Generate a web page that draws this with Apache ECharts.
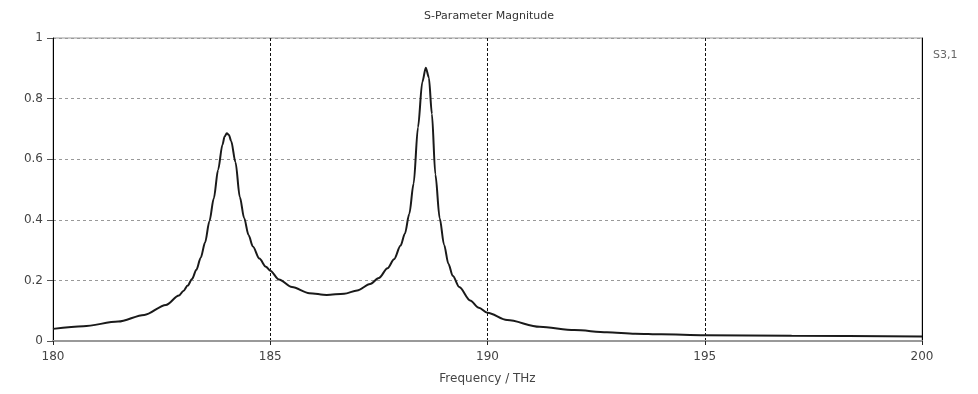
<!DOCTYPE html>
<html>
<head>
<meta charset="utf-8">
<script src="https://cdn.jsdelivr.net/npm/echarts@6/dist/echarts.min.js"></script>
<style>html,body{margin:0;padding:0;background:#fff;}#c{width:978px;height:394px;}</style>
</head>
<body>
<div id="c"></div>
<script>
const title = 'S-Parameter Magnitude';
const seriesName = 'S3,1';
const xName = 'Frequency / THz';
const xTicks = [180, 185, 190, 195, 200];
const yTicks = [0, 0.2, 0.4, 0.6, 0.8, 1];
const freq = [180.0,180.7,181.5,182.1,182.6,182.9,183.0,183.1,183.2,183.3,183.4,183.5,183.6,183.7,183.8,183.9,183.95,184.0,184.05,184.1,184.2,184.3,184.4,184.5,184.6,184.75,184.9,185.0,185.2,185.5,185.9,186.3,186.7,187.0,187.3,187.5,187.7,187.85,188.0,188.1,188.2,188.3,188.4,188.5,188.58,188.65,188.72,188.8,188.9,189.0,189.1,189.2,189.35,189.6,189.8,190.0,190.45,191.2,192.0,192.75,193.4,194.0,195.0,197.0,200.0];
const mag = [0.040,0.049,0.064,0.086,0.119,0.150,0.165,0.183,0.205,0.235,0.275,0.325,0.395,0.470,0.565,0.648,0.675,0.686,0.680,0.660,0.590,0.475,0.405,0.350,0.312,0.272,0.245,0.232,0.203,0.178,0.158,0.152,0.156,0.167,0.188,0.208,0.240,0.270,0.315,0.355,0.420,0.520,0.705,0.855,0.902,0.870,0.750,0.550,0.405,0.318,0.255,0.215,0.178,0.134,0.110,0.093,0.069,0.047,0.036,0.029,0.024,0.022,0.019,0.017,0.015];

const font = 'DejaVu Sans';
const chart = echarts.init(document.getElementById('c'), null, {renderer: 'canvas'});
chart.setOption({
  animation: false,
  backgroundColor: '#fff',
  title: {text: title, left: 'center', top: 6, textStyle: {fontFamily: font, fontSize: 11, fontWeight: 'normal', color: '#333'}},
  grid: {left: 53, right: 56, top: 38, bottom: 53, show: true, borderColor: '#999', borderWidth: 1},
  graphic: [{type: 'text', left: 933, top: 50, style: {text: seriesName, fontFamily: font, fontSize: 11, fill: '#666'}}],
  xAxis: {
    type: 'value', min: 180, max: 200, interval: 5,
    name: xName, nameLocation: 'middle', nameGap: 32,
    nameTextStyle: {fontFamily: font, fontSize: 12, color: '#444'},
    axisLine: {show: true, onZero: false, lineStyle: {color: '#999', width: 2}},
    axisTick: {show: true, length: 4, lineStyle: {color: '#222'}},
    axisLabel: {margin: 10, fontFamily: font, fontSize: 12, color: '#444', formatter: v => xTicks.includes(v) ? String(v) : ''},
    splitLine: {show: true, lineStyle: {color: '#111', type: [3, 2], width: 1}}
  },
  yAxis: [{
    type: 'value', min: 0, max: 1, interval: 0.2,
    axisLine: {show: true, lineStyle: {color: '#000', width: 1}},
    axisTick: {show: true, length: 6, lineStyle: {color: '#555'}},
    axisLabel: {margin: 10, fontFamily: font, fontSize: 12, color: '#444', formatter: v => { const t = yTicks.find(k => Math.abs(k - v) < 1e-9); return t === undefined ? '' : String(t); }},
    splitLine: {show: true, lineStyle: {color: '#999', type: [3, 3], width: 1}}
  }, {
    type: 'value', min: 0, max: 1, interval: 0.2, position: 'right',
    axisLine: {show: true, lineStyle: {color: '#000', width: 1}},
    axisTick: {show: false}, axisLabel: {show: false}, splitLine: {show: false}
  }],
  series: [{
    name: seriesName, type: 'line', yAxisIndex: 0,
    data: freq.map((f, i) => [f, mag[i]]),
    showSymbol: false, smooth: 0.3, smoothMonotone: 'x',
    lineStyle: {color: '#1a1a1a', width: 2}
  }]
});
</script>
</body>
</html>
